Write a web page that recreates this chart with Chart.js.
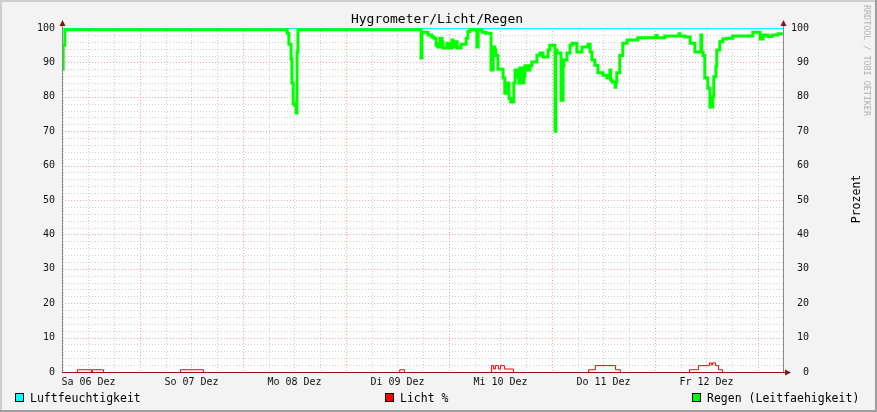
<!DOCTYPE html>
<html>
<head>
<meta charset="utf-8">
<script src="https://cdn.jsdelivr.net/npm/chart.js@4/dist/chart.umd.min.js"></script>
<style>
  html, body { margin: 0; padding: 0; background: #f3f3f3; }
  canvas { display: block; }
</style>
</head>
<body>
<canvas id="graph" width="877" height="412"></canvas>
<script>
// time is in hours since Sa 06 Dez 00:00
const dayLabels = ['Sa 06 Dez', 'So 07 Dez', 'Mo 08 Dez', 'Di 09 Dez', 'Mi 10 Dez', 'Do 11 Dez', 'Fr 12 Dez'];
const dayNoon = [12, 36, 60, 84, 108, 132, 156];

const luftTime = [5.8, 173.8];
const luftValue = [100, 100];

const lichtTime = [5.8, 9.3, 12.6, 12.8, 15.4, 33.3, 38.7, 84.4, 85.5, 105.8,
                   106.3, 106.7, 107.4, 107.9, 108.8, 110.9, 128.4, 130.0, 134.7, 135.8,
                   151.9, 154.0, 156.6, 157.0, 157.3, 158.0, 158.7, 159.6, 173.8];
const lichtValue = [0, 0.8, 0, 0.8, 0, 0.8, 0, 0.8, 0, 2.0,
                    1.0, 2.0, 1.0, 2.0, 1.0, 0, 0.8, 2.0, 0.8, 0,
                    0.8, 2.0, 2.8, 2.2, 2.8, 2.0, 0.8, 0, 0];

const regenTime = [5.8, 6.1, 6.5, 58.3, 58.7, 59.2, 59.4, 59.7, 60.1, 60.4,
                   60.6, 60.8, 89.5, 89.7, 91.1, 92.0, 92.5, 93.0, 93.2, 93.4,
                   93.9, 94.4, 94.6, 95.5, 96.0, 96.7, 96.9, 97.6, 97.9, 98.8,
                   100.0, 100.4, 100.9, 102.5, 102.8, 103.7, 104.6, 105.8, 106.3, 106.7,
                   106.9, 107.4, 108.6, 109.0, 109.5, 110.0, 110.4, 111.1, 111.4, 111.8,
                   112.3, 112.5, 113.0, 113.5, 113.7, 114.4, 114.9, 115.3, 116.5, 117.2,
                   117.9, 119.1, 119.5, 120.7, 120.9, 121.2, 122.1, 122.6, 122.8, 123.5,
                   124.2, 124.7, 125.8, 127.0, 128.4, 128.9, 129.3, 130.0, 130.7, 131.9,
                   132.8, 133.5, 133.7, 134.0, 134.7, 134.9, 135.1, 135.8, 136.5, 137.5,
                   140.0, 144.2, 144.5, 146.3, 149.6, 149.8, 151.0, 152.2, 153.3, 154.7,
                   154.9, 155.2, 155.6, 156.3, 156.8, 157.5, 157.7, 158.2, 158.4, 159.1,
                   159.8, 160.7, 162.1, 166.8, 168.5, 169.2, 170.3, 171.3, 172.7, 173.8];
const regenValue = [88, 95, 99.5, 98.5, 95.3, 91, 84, 78, 77.5, 75.3,
                    93, 99.5, 91.3, 98.8, 98.0, 97.4, 97, 95, 95.5, 94.5,
                    97, 96, 94.2, 95.6, 94.2, 96.5, 94.5, 96, 94.2, 95.3,
                    97, 99, 99.5, 94.5, 99.5, 98.8, 98.5, 87.8, 94.5, 93.6,
                    92, 88, 85.5, 81, 84, 79.5, 78.5, 84, 87.8, 85.8,
                    84, 88.4, 84, 86, 89, 87.8, 89, 90.1, 92.1, 92.7,
                    91.6, 93.6, 95, 70, 93.6, 92.7, 79, 89, 90.7, 92.7,
                    95, 95.6, 93, 94.5, 95.3, 93, 90.7, 89.2, 87, 86.3,
                    85.5, 87.8, 84.9, 84.3, 82.8, 84.3, 87, 92, 95.6, 96.5,
                    97.2, 97.8, 97.2, 97.7, 98.3, 97.7, 97.4, 95.6, 93, 98,
                    93, 92, 85.5, 82.5, 77, 80, 85.8, 88.7, 93.6, 96,
                    96.8, 97, 97.7, 98.8, 96.8, 98, 97.5, 98, 98.3, 98.3];

function points(times, values) {
    return times.map((t, i) => ({ x: t, y: values[i] }));
}

const MONO = '"DejaVu Sans Mono", "Liberation Mono", monospace';

const rrdLook = {
    id: 'rrdLook',
    beforeDraw(chart) {
        const c = chart.ctx, a = chart.chartArea;
        c.save();
        c.fillStyle = '#f3f3f3';
        c.fillRect(0, 0, chart.width, chart.height);
        c.fillStyle = '#cecece';
        c.fillRect(0, 0, chart.width, 2);
        c.fillRect(0, 0, 2, chart.height);
        c.fillStyle = '#9e9e9e';
        c.fillRect(0, chart.height - 2, chart.width, 2);
        c.fillRect(chart.width - 2, 0, 2, chart.height);
        c.fillStyle = '#ffffff';
        c.fillRect(a.left, a.top, a.right - a.left, a.bottom - a.top);
        c.restore();
    },
    beforeDatasetsDraw(chart) {
        const c = chart.ctx, a = chart.chartArea;
        const xs = chart.scales.x, ys = chart.scales.y;
        c.save();
        c.lineWidth = 1;
        c.setLineDash([1, 2]);
        // vertical: every 6 h, red at midnight
        for (let h = 6; h <= 168; h += 6) {
            const px = Math.round(xs.getPixelForValue(h)) + 0.5;
            if (px <= a.left + 1 || px >= a.right) continue;
            c.strokeStyle = h % 24 === 0 ? 'rgba(255,0,0,0.35)' : 'rgba(140,140,140,0.4)';
            c.beginPath();
            c.moveTo(px, a.top);
            c.lineTo(px, a.bottom);
            c.stroke();
        }
        // horizontal: every 2 %, red every 10 %
        for (let v = 2; v <= 100; v += 2) {
            const py = Math.round(ys.getPixelForValue(v)) + 0.5;
            c.strokeStyle = v % 10 === 0 ? 'rgba(255,0,0,0.35)' : 'rgba(140,140,140,0.4)';
            c.beginPath();
            c.moveTo(a.left, py);
            c.lineTo(a.right, py);
            c.stroke();
        }
        c.restore();
    },
    beforeDatasetDraw(chart, args) {
        if (args.index === 1) {
            chart.ctx.save();
            chart.ctx.translate(0.5, 0.5);
        }
    },
    afterDatasetDraw(chart, args) {
        if (args.index === 1) chart.ctx.restore();
    },
    afterDatasetsDraw(chart) {
        const c = chart.ctx, a = chart.chartArea;
        const l = Math.round(a.left), r = Math.round(a.right), b = Math.round(a.bottom);
        c.save();
        c.fillStyle = '#8a8a8a';
        c.fillRect(l, a.top - 2, 1, b - a.top + 3);
        c.fillRect(r, a.top - 2, 1, b - a.top + 3);
        c.fillStyle = '#a01010';
        c.fillRect(l, b, r - l + 3, 1);
        c.fillStyle = '#7f1a1a';
        const tri = (p) => { c.beginPath(); c.moveTo(p[0], p[1]); c.lineTo(p[2], p[3]); c.lineTo(p[4], p[5]); c.closePath(); c.fill(); };
        tri([l + 0.5, a.top - 8, l - 2.5, a.top - 2, l + 3.5, a.top - 2]);
        tri([r + 0.5, a.top - 8, r - 2.5, a.top - 2, r + 3.5, a.top - 2]);
        tri([r + 8, b + 0.5, r + 2, b - 2.5, r + 2, b + 3.5]);
        c.restore();
    },
    afterDraw(chart) {
        const c = chart.ctx;
        c.save();
        c.fillStyle = '#000';
        c.font = '13px ' + MONO;
        c.textAlign = 'center';
        c.textBaseline = 'alphabetic';
        c.fillText('Hygrometer/Licht/Regen', 437, 23);

        // legend
        c.font = '11.5px ' + MONO;
        c.textAlign = 'left';
        const legend = [[15, chart.data.datasets[0]], [385, chart.data.datasets[1]], [692, chart.data.datasets[2]]];
        legend.forEach(([x, ds]) => {
            c.fillStyle = ds.borderColor;
            c.fillRect(x, 393, 9, 9);
            c.strokeStyle = '#000';
            c.lineWidth = 1;
            c.strokeRect(x + 0.5, 393.5, 8, 8);
            c.fillStyle = '#000';
            c.fillText(ds.label, x + 15, 402);
        });

        // vertical axis label
        c.save();
        c.translate(857, 199);
        c.rotate(-Math.PI / 2);
        c.textAlign = 'center';
        c.textBaseline = 'middle';
        c.fillText('Prozent', 0, 0);
        c.restore();

        // watermark
        c.save();
        c.translate(866.5, 5);
        c.rotate(Math.PI / 2);
        c.font = '8.4px ' + MONO;
        c.fillStyle = '#b4b4b4';
        c.textAlign = 'left';
        c.textBaseline = 'middle';
        c.fillText('RRDTOOL / TOBI OETIKER', 0, 0);
        c.restore();
        c.restore();
    }
};

const tickFont = { family: MONO, size: 10 };

new Chart(document.getElementById('graph').getContext('2d'), {
    type: 'line',
    data: {
        datasets: [{
            label: 'Luftfeuchtigkeit',
            data: points(luftTime, luftValue),
            borderColor: '#00ffff',
            borderWidth: 2,
            order: 2
        }, {
            label: 'Licht %',
            data: points(lichtTime, lichtValue),
            borderColor: '#ff0000',
            borderWidth: 1,
            order: 1
        }, {
            label: 'Regen (Leitfaehigkeit)',
            data: points(regenTime, regenValue),
            borderColor: '#00ff00',
            borderWidth: 3,
            order: 0
        }]
    },
    options: {
        responsive: false,
        animation: false,
        layout: { padding: { top: 28, left: 0, right: 68, bottom: 0 } },
        elements: {
            point: { radius: 0, hoverRadius: 0 },
            line: { stepped: true, tension: 0, fill: false, borderJoinStyle: 'miter', borderCapStyle: 'butt' }
        },
        plugins: {
            legend: { display: false },
            title: { display: false },
            tooltip: { enabled: false }
        },
        events: [],
        scales: {
            x: {
                type: 'linear',
                min: 5.83,
                max: 173.83,
                grid: { display: false, drawTicks: false },
                border: { display: false },
                afterBuildTicks: (s) => { s.ticks = dayNoon.map(v => ({ value: v })); },
                afterFit: (s) => { s.height = 40; s.paddingLeft = 0; s.paddingRight = 0; },
                ticks: {
                    autoSkip: false,
                    maxRotation: 0,
                    padding: 4,
                    color: '#111',
                    font: tickFont,
                    callback: (v, i) => dayLabels[i]
                }
            },
            y: {
                position: 'left',
                min: 0,
                max: 100,
                grid: { display: false, drawTicks: false },
                border: { display: false },
                afterFit: (s) => { s.width = 62; s.paddingTop = 0; s.paddingBottom = 0; },
                ticks: { stepSize: 10, padding: 7, color: '#111', font: tickFont }
            },
            y2: {
                position: 'right',
                min: 0,
                max: 100,
                grid: { display: false, drawTicks: false },
                border: { display: false },
                afterFit: (s) => { s.width = 26; s.paddingTop = 0; s.paddingBottom = 0; },
                ticks: { stepSize: 10, padding: 7, crossAlign: 'far', color: '#111', font: tickFont }
            }
        }
    },
    plugins: [rrdLook]
});
</script>
</body>
</html>
